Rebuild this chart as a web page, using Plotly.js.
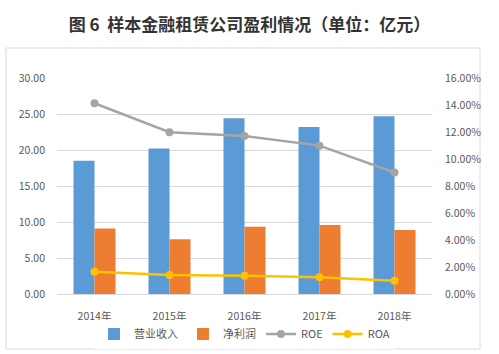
<!DOCTYPE html>
<html>
<head>
<meta charset="utf-8">
<script src="https://cdn.plot.ly/plotly-3.0.1.min.js"></script>
<style>html,body{margin:0;padding:0;background:#fff;}#chart{width:499px;height:354px;}</style>
</head>
<body>
<div id="chart"></div>
<script>
const categories = ['2014年', '2015年', '2016年', '2017年', '2018年'];
const revenue = [18.5, 20.2, 24.4, 23.2, 24.7];
const netProfit = [9.1, 7.6, 9.35, 9.6, 8.9];
const roe = [0.1413, 0.1198, 0.1170, 0.1099, 0.0900];
const roa = [0.0165, 0.0141, 0.0136, 0.0124, 0.0099];
const leftTicks = [0, 5, 10, 15, 20, 25, 30];
const rightTicks = [0, 0.02, 0.04, 0.06, 0.08, 0.10, 0.12, 0.14, 0.16];

const font = "Noto Sans CJK SC, Noto Sans, sans-serif";
const traces = [
  {type: 'bar', name: '营业收入', x: categories, y: revenue, marker: {color: '#5B9BD5'}},
  {type: 'bar', name: '净利润', x: categories, y: netProfit, marker: {color: '#ED7D31'}},
  {type: 'scatter', mode: 'lines+markers', name: 'ROE', x: categories, y: roe, yaxis: 'y2',
   line: {color: '#A5A5A5', width: 2.5}, marker: {color: '#A5A5A5', size: 8}},
  {type: 'scatter', mode: 'lines+markers', name: 'ROA', x: categories, y: roa, yaxis: 'y2',
   line: {color: '#FFC000', width: 2.5}, marker: {color: '#FFC000', size: 8}}
];
const layout = {
  width: 499, height: 354,
  margin: {l: 57, r: 67, t: 78, b: 60, autoexpand: false},
  paper_bgcolor: '#ffffff', plot_bgcolor: '#ffffff',
  font: {family: font, size: 10, color: '#595959'},
  title: {text: '<b>图 6  样本金融租赁公司盈利情况（单位：亿元）</b>', font: {family: font, size: 17, color: '#333333'},
          x: 0.5, xanchor: 'center', y: 1 - 25/354, yanchor: 'middle', yref: 'container'},
  barmode: 'group', bargap: 0.44, bargroupgap: 0,
  xaxis: {type: 'category', showgrid: false, showline: true, linecolor: '#d9d9d9', linewidth: 1, ticks: '',
          tickfont: {size: 10.5, color: '#595959'}, ticklabelstandoff: 12},
  yaxis: {range: [0, 30], tickvals: leftTicks, tickformat: '.2f', showgrid: true, gridcolor: '#d9d9d9', gridwidth: 1,
          zeroline: false, showline: false, ticks: '', tickfont: {size: 10.5, color: '#595959'}, ticklabelstandoff: 11},
  yaxis2: {range: [0, 0.16], tickvals: rightTicks, tickformat: '.2%', overlaying: 'y', side: 'right', showgrid: false,
           zeroline: false, showline: false, ticks: '', tickfont: {size: 10.5, color: '#595959'}, ticklabelstandoff: 12},
  legend: {orientation: 'h', x: 0.5, xanchor: 'center', y: (294-334)/216, yanchor: 'middle',
           font: {size: 11, color: '#595959'}, itemwidth: 30},
  shapes: [{type: 'rect', xref: 'paper', yref: 'paper', x0: (6-57)/375, x1: (480-57)/375, y0: (294-349)/216, y1: (294-48)/216,
            line: {color: '#d9d9d9', width: 1}, fillcolor: 'rgba(0,0,0,0)', layer: 'below'}]
};
Plotly.newPlot('chart', traces, layout, {staticPlot: true, displayModeBar: false});
</script>
</body>
</html>
